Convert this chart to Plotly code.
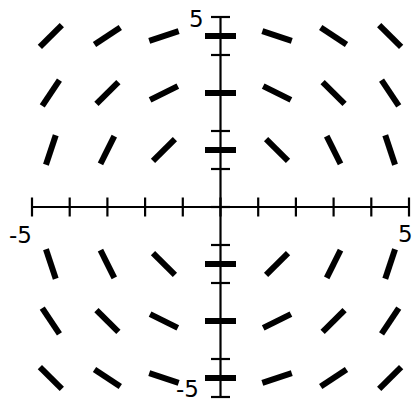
import plotly.graph_objects as go

# Sample points of the direction field and the slope dy/dx read at each one
x_points = [-4.5, -3.0, -1.5, 0.0, 1.5, 3.0, 4.5]
y_points = [4.5, 3.0, 1.5, -1.5, -3.0, -4.5]
slopes = [
    [1.0, 0.667, 0.333, 0.0, -0.333, -0.667, -1.0],
    [1.5, 1.0, 0.5, 0.0, -0.5, -1.0, -1.5],
    [3.0, 2.0, 1.0, 0.0, -1.0, -2.0, -3.0],
    [-3.0, -2.0, -1.0, 0.0, 1.0, 2.0, 3.0],
    [-1.5, -1.0, -0.5, 0.0, 0.5, 1.0, 1.5],
    [-1.0, -0.667, -0.333, 0.0, 0.333, 0.667, 1.0],
]
tick_values = [-5, -4, -3, -2, -1, 0, 1, 2, 3, 4, 5]
end_labels = [-5, 5]

W, H = 415, 404
# pixel layout of the axes
PX_LEFT, PX_RIGHT = 32, 409
PY_TOP, PY_BOTTOM = 17, 397
sx = (PX_RIGHT - PX_LEFT) / 10.0   # px per unit along x
sy = (PY_BOTTOM - PY_TOP) / 10.0   # px per unit along y
x_range = [-5 - PX_LEFT / sx, 5 + (W - PX_RIGHT) / sx]
y_range = [-5 - (H - PY_BOTTOM) / sy, 5 + PY_TOP / sy]

SEG_PX = 31      # segment length in pixels
TICK_PX = 9.5    # half-length of a tick in pixels

fig = go.Figure()

# direction segments, equal on-screen length
seg_x, seg_y = [], []
for j, yc in enumerate(y_points):
    for i, xc in enumerate(x_points):
        m = slopes[j][i]
        norm = (1 + m * m) ** 0.5
        dxp = (SEG_PX / 2) / norm
        dyp = (SEG_PX / 2) * m / norm
        seg_x += [xc - dxp / sx, xc + dxp / sx, None]
        seg_y += [yc - dyp / sy, yc + dyp / sy, None]
fig.add_trace(go.Scatter(x=seg_x, y=seg_y, mode="lines",
                         line=dict(color="black", width=6), hoverinfo="skip"))

# axes with ticks crossing both sides
ax_x = [-5, 5, None, 0, 0, None]
ax_y = [0, 0, None, -5, 5, None]
for t in tick_values:
    ax_x += [t, t, None]
    ax_y += [-TICK_PX / sy, TICK_PX / sy, None]
    ax_x += [-TICK_PX / sx, TICK_PX / sx, None]
    ax_y += [t, t, None]
fig.add_trace(go.Scatter(x=ax_x, y=ax_y, mode="lines",
                         line=dict(color="black", width=2.2), hoverinfo="skip"))

font = dict(family="DejaVu Sans, sans-serif", size=23, color="black")
lo, hi = end_labels
fig.add_annotation(x=lo, y=0, text=str(lo), showarrow=False, font=font,
                   xanchor="right", yanchor="middle", xshift=2, yshift=-28)
fig.add_annotation(x=hi, y=0, text=str(hi), showarrow=False, font=font,
                   xanchor="right", yanchor="middle", xshift=6, yshift=-27)
fig.add_annotation(x=0, y=hi, text=str(hi), showarrow=False, font=font,
                   xanchor="right", yanchor="middle", xshift=-15, yshift=-2)
fig.add_annotation(x=0, y=lo, text=str(lo), showarrow=False, font=font,
                   xanchor="right", yanchor="bottom", xshift=-20, yshift=-7)

fig.update_layout(
    width=W, height=H,
    margin=dict(l=0, r=0, t=0, b=0),
    paper_bgcolor="white", plot_bgcolor="white",
    showlegend=False,
    xaxis=dict(range=x_range, visible=False, fixedrange=True),
    yaxis=dict(range=y_range, visible=False, fixedrange=True),
)

fig.write_html("out.html")
